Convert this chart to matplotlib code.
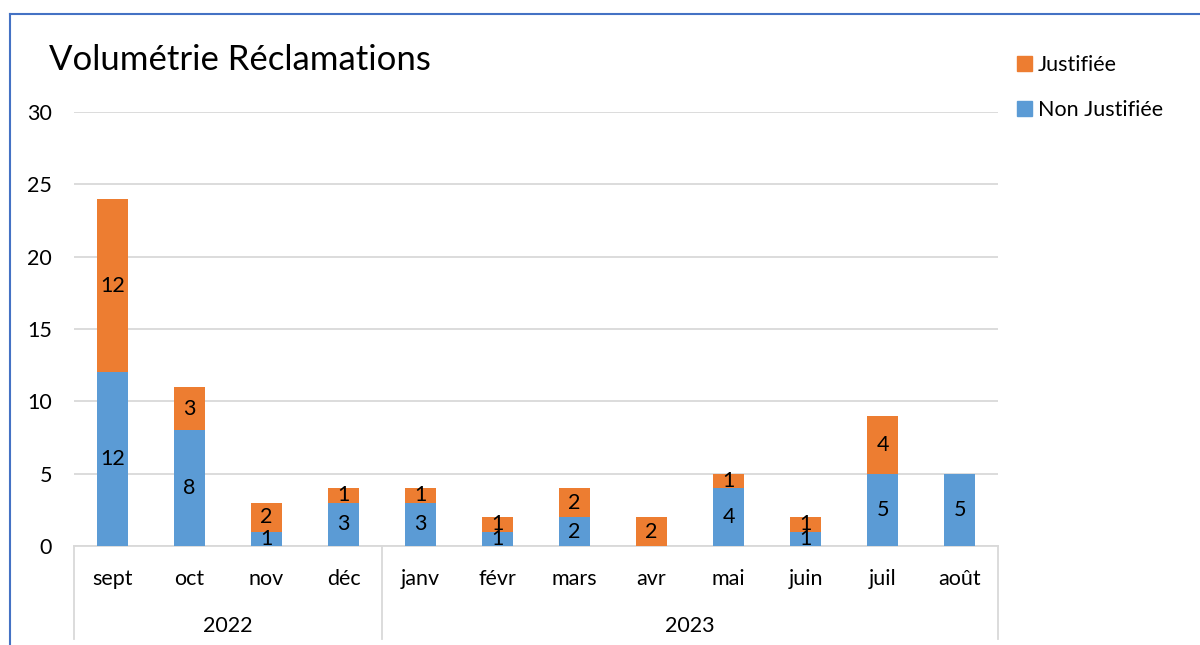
import numpy as np
import matplotlib.pyplot as plt
import matplotlib.transforms as mtransforms
from matplotlib.lines import Line2D
from matplotlib.patches import Patch

plt.rcParams['font.family'] = ['Lato', 'DejaVu Sans']

# données
mois = ['sept', 'oct', 'nov', 'déc', 'janv', 'févr', 'mars', 'avr', 'mai', 'juin', 'juil', 'août']
annees = ['2022', '2023']
nb_mois_annee = [4, 8]
non_justifiee = [12, 8, 1, 3, 3, 1, 2, 0, 4, 1, 5, 5]
justifiee = [12, 3, 2, 1, 1, 1, 2, 2, 1, 1, 4, 0]

bleu = '#5B9BD5'
orange = '#ED7D31'
gris = '#D9D9D9'
taille = 15.5

fig = plt.figure(figsize=(12, 6.45), dpi=100)
ax = fig.add_axes([0.0617, 0.1535, 0.77, 0.673])

x = np.arange(len(mois))
nj = np.array(non_justifiee)
j = np.array(justifiee)
largeur = 0.4

ax.bar(x, nj, largeur, color=bleu, zorder=3)
ax.bar(x, j, largeur, bottom=nj, color=orange, zorder=3)

# étiquettes de valeurs au centre des segments
for i in range(len(mois)):
    if nj[i] > 0:
        ax.text(x[i], nj[i] / 2, str(nj[i]), ha='center', va='center',
                fontsize=taille, color='black', zorder=4)
    if j[i] > 0:
        ax.text(x[i], nj[i] + j[i] / 2, str(j[i]), ha='center', va='center',
                fontsize=taille, color='black', zorder=4)

ax.set_xlim(-0.5, len(mois) - 0.5)
ax.set_ylim(0, 30)
ax.set_yticks(range(0, 31, 5))
ax.yaxis.grid(True, color=gris, linewidth=1.3, zorder=0)
ax.tick_params(axis='y', length=0, labelsize=taille, pad=16)
ax.tick_params(axis='x', length=0, labelbottom=False)
for s in ['top', 'right', 'left']:
    ax.spines[s].set_visible(False)
ax.spines['bottom'].set_color(gris)
ax.spines['bottom'].set_linewidth(1.3)

# axe des catégories à deux niveaux (mois / année)
trans = mtransforms.blended_transform_factory(ax.transData, ax.transAxes)
bas = -0.215
for i, m in enumerate(mois):
    ax.text(i, -0.075, m, transform=trans, ha='center', va='center', fontsize=taille)

debut = -0.5
separations = [debut]
for an, n in zip(annees, nb_mois_annee):
    ax.text(debut + n / 2, -0.185, an, transform=trans, ha='center', va='center', fontsize=taille)
    debut += n
    separations.append(debut)
for s in separations:
    ax.add_line(Line2D([s, s], [0, bas], transform=trans, color=gris,
                       linewidth=1.3, clip_on=False))

fig.text(0.041, 0.907, 'Volumétrie Réclamations', fontsize=25, ha='left', va='center')

handles = [Patch(color=orange), Patch(color=bleu)]
fig.legend(handles, ['Justifiée', 'Non Justifiée'], loc='upper left',
           bbox_to_anchor=(0.831, 0.945), frameon=False, fontsize=taille,
           handlelength=0.7, handleheight=0.7, handletextpad=0.3,
           labelspacing=1.15)

# cadre bleu
fig.add_artist(Line2D([0.0085, 0.0085], [0, 0.978], color='#4472C4', linewidth=1.5))
fig.add_artist(Line2D([0.0085, 1], [0.978, 0.978], color='#4472C4', linewidth=1.5))

fig.savefig('out.png', dpi=100)
